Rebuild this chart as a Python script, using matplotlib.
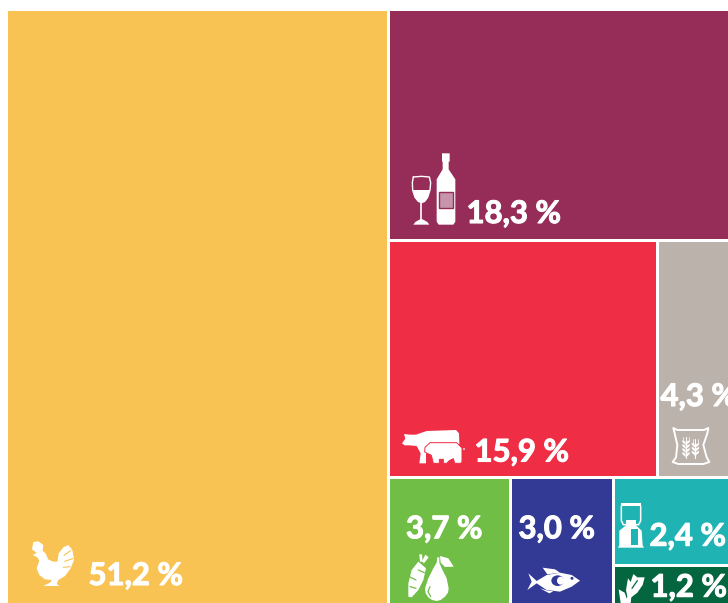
import matplotlib
matplotlib.use("Agg")
import matplotlib.pyplot as plt
from matplotlib.patches import Rectangle, Polygon, Ellipse, Circle
import matplotlib.patheffects as pe

# ---------- data ----------
categories = ["Volaille", "Vin", "Viande", "Céréales", "Fruits et légumes", "Poisson", "Lait", "Plantes"]
values = [51.2, 18.3, 15.9, 4.3, 3.7, 3.0, 2.4, 1.2]
# tile areas as drawn in the picture (%), they differ a little from the labels
tile_areas = [52.84, 18.31, 14.85, 3.97, 3.59, 3.03, 2.37, 1.04]
colors = ["#F9C353", "#962C58", "#EF2D44", "#BBB2AC", "#71BE47", "#323A96", "#20B3B3", "#04663F"]

W, H, DPI = 728, 603, 100
GAP = 3.0
FS = 22.4
plt.rcParams["font.family"] = ["Lato", "Open Sans", "DejaVu Sans"]

fig = plt.figure(figsize=(W / DPI, H / DPI), dpi=DPI, facecolor="white")
ax = fig.add_axes([0, 0, 1, 1])
ax.set_xlim(0, W)
ax.set_ylim(H, 0)
ax.axis("off")


# ---------- slice-and-dice treemap ----------
def layout(a, x0, y0, x1, y1):
    total = sum(a)
    xs = x0 + (x1 - x0) * a[0] / total
    rects = [(x0, y0, xs, y1)]
    rest = a[1:]
    rt = sum(rest)
    ys = y0 + (y1 - y0) * rest[0] / rt                 # top tile of right column
    rects.append((xs, y0, x1, ys))
    mid_t = rest[1] + rest[2]
    yb = ys + (y1 - ys) * mid_t / (rt - rest[0])       # middle row / bottom row
    xm = xs + (x1 - xs) * rest[1] / mid_t
    rects += [(xs, ys, xm, yb), (xm, ys, x1, yb)]
    low = rest[3:]
    lt = sum(low)
    xa = xs + (x1 - xs) * low[0] / lt
    xb = xa + (x1 - xs) * low[1] / lt
    rects += [(xs, yb, xa, y1), (xa, yb, xb, y1)]
    yc = yb + (y1 - yb) * low[2] / (low[2] + low[3])
    rects += [(xb, yb, x1, yc), (xb, yc, x1, y1)]
    return rects


rects = layout(tile_areas, 6.5, 9.5, 729.5, 604.5)
for (x0, y0, x1, y1), c in zip(rects, colors):
    ax.add_patch(Rectangle((x0 + GAP / 2, y0 + GAP / 2), x1 - x0 - GAP, y1 - y0 - GAP,
                           facecolor=c, edgecolor="none", zorder=1))

# ---------- labels: left / baseline position in each tile ----------
label_pos = [(88.5, 585), (466.5, 223), (474.5, 461.5), (660.5, 406),
             (406, 538.3), (518.5, 538.3), (649.5, 545.7), (650.5, 596.7)]
for v, (x, y) in zip(values, label_pos):
    t = ax.text(x, y, f"{v:.1f} %".replace(".", ","), color="white", fontsize=FS,
                fontweight="bold", ha="left", va="baseline", zorder=5)
    t.set_path_effects([pe.withStroke(linewidth=0.8, foreground="white")])


# ---------- icons (decoration), given in zoomed-crop coordinates ----------
def P(o, pts):
    return [(o[0] + x / 3, o[1] + y / 3) for x, y in pts]


def fill(o, pts, c="white", **kw):
    ax.add_patch(Polygon(P(o, pts), closed=True, facecolor=c, edgecolor=kw.pop("ec", "none"),
                         lw=kw.pop("lw", 0), joinstyle="round", zorder=kw.pop("z", 3)))


def line(o, pts, c="white", lw=1.0, z=3):
    q = P(o, pts)
    ax.plot([p[0] for p in q], [p[1] for p in q], color=c, lw=lw, solid_capstyle="round", zorder=z)


# chicken
o = (0, 520)
fill(o, [(112, 98), (128, 92), (138, 102), (144, 118), (160, 125), (172, 125), (176, 100), (190, 82),
         (205, 75), (217, 90), (222, 120), (212, 145), (195, 168), (175, 180), (170, 192), (178, 198),
         (130, 198), (150, 188), (156, 180), (135, 178), (118, 165), (110, 145), (118, 122), (112, 112), (98, 105)])
fill(o, [(96, 88), (100, 66), (115, 64), (130, 75), (128, 92), (112, 100)])
line(o, [(192, 106), (212, 92)], colors[0], 0.8, 4)
line(o, [(194, 124), (218, 116)], colors[0], 0.8, 4)
line(o, [(190, 142), (210, 140)], colors[0], 0.8, 4)

# wine
o = (390, 140)
bg = colors[1]
line(o, [(70, 111), (67, 128), (68, 150), (75, 172), (85, 184), (95, 188), (104, 184), (113, 172), (120, 150), (122, 128),
         (118, 111), (94, 109), (70, 111)], lw=1.0)
fill(o, [(69, 150), (120, 150), (113, 172), (104, 184), (95, 188), (85, 184), (75, 172)])
line(o, [(94, 188), (94, 240)], lw=1.2)
fill(o, [(70, 254), (118, 254), (112, 246), (98, 238), (90, 238), (76, 246)])
fill(o, [(156, 40), (179, 40), (179, 65), (176, 65), (176, 88), (196, 118), (196, 245), (190, 254),
         (146, 254), (140, 245), (140, 118), (158, 88), (158, 65), (156, 65)])
ax.add_patch(Rectangle((390 + 148 / 3, 140 + 155 / 3), 40 / 3, 50 / 3, facecolor="#C795AB", edgecolor=bg, lw=1.0, zorder=4))

# cow + pig
o = (390, 420)
bg = colors[2]
fill(o, [(36, 70), (46, 56), (42, 42), (60, 44), (78, 44), (110, 33), (198, 30), (207, 40), (208, 72),
         (140, 95), (108, 100), (108, 130), (88, 130), (92, 100), (80, 78), (58, 76), (44, 76)])
fill(o, [(105, 82), (120, 68), (200, 68), (216, 84), (216, 126), (212, 130), (194, 130), (190, 116),
         (178, 122), (170, 130), (160, 130), (160, 118), (148, 118), (148, 130), (130, 130), (124, 106), (104, 96)],
     ec=bg, lw=0.7, z=3.5)
ax.add_patch(Circle((390 + 222 / 3, 420 + 87 / 3), 0.9, fc="white", ec="none", zorder=3))

# carrot + pear
o = (390, 420)
bg = colors[4]
fill(o, [(85, 425), (108, 445), (100, 480), (85, 510), (65, 532), (55, 530), (55, 490), (65, 450)])
fill(o, [(88, 403), (96, 403), (98, 425), (90, 425)])
fill(o, [(106, 404), (116, 412), (102, 430), (96, 424)])
for a, b in [((58, 470), (78, 480)), ((60, 500), (78, 505)), ((85, 450), (103, 458))]:
    line(o, [a, b], bg, 0.9, 4)
fill(o, [(142, 412), (148, 412), (148, 428), (155, 445), (170, 475), (176, 505), (174, 518), (165, 530), (152, 540), (140, 543),
         (126, 540), (115, 532), (107, 520), (105, 505), (115, 475), (130, 445), (140, 428)])
fill(o, [(150, 408), (175, 415), (191, 440), (165, 441), (152, 428)])
line(o, [(120, 500), (114, 515), (122, 530)], bg, 0.9, 4)

# fish
o = (390, 420)
bg = colors[5]
fill(o, [(440, 483), (470, 465), (510, 458), (545, 465), (570, 482), (545, 500), (510, 515), (470, 510), (440, 490),
         (412, 510), (425, 485), (415, 460)])
fill(o, [(458, 443), (495, 448), (510, 458), (472, 463)])
fill(o, [(450, 505), (470, 511), (490, 514), (478, 520)])
ax.add_patch(Ellipse((390 + 503 / 3, 420 + 482 / 3), 38 / 3, 32 / 3, fc=bg, ec="none", zorder=4))
ax.add_patch(Ellipse((390 + 512 / 3, 420 + 482 / 3), 22 / 3, 24 / 3, fc="white", ec="none", zorder=4.5))
ax.add_patch(Circle((390 + 546 / 3, 420 + 475 / 3), 1.5, fc=bg, ec="none", zorder=4))

# sack with wheat
o = (590, 370)
fill(o, [(250, 174), (262, 180), (342, 180), (355, 174), (352, 190), (340, 225), (350, 262), (358, 276),
         (340, 282), (265, 282), (248, 276), (258, 262), (262, 225), (254, 190)], c=colors[3], ec="white", lw=1.4)
for xc, y0, y1 in [(288, 200, 265), (316, 208, 265)]:
    line(o, [(xc, y0), (xc, y1)], lw=0.8, z=4)
    for yy in range(y0 + 18, y1 - 8, 12):
        for d in (-1, 1):
            fill(o, [(xc, yy + 8), (xc + d * 11, yy - 2), (xc + d * 11, yy - 8), (xc + d * 2, yy - 3)], z=4)
    line(o, [(xc - 8, y0), (xc - 8, y0 + 14)], lw=0.5, z=4)
    line(o, [(xc + 8, y0), (xc + 8, y0 + 14)], lw=0.5, z=4)

# milk can
o = (590, 370)
bg = colors[6]
fill(o, [(92, 398), (154, 398), (154, 409), (92, 409)])
line(o, [(94, 408), (94, 452), (100, 464), (146, 464), (152, 452), (152, 408)], lw=1.1)
fill(o, [(108, 450), (138, 450), (138, 466), (155, 482), (158, 526), (162, 533), (84, 533), (88, 526), (88, 482), (108, 466)])
ax.add_patch(Rectangle((590 + 122 / 3, 370 + 478 / 3), 21 / 3, 47 / 3, fc=bg, ec="none", zorder=4))

# plant
o = (590, 370)
fill(o, [(108, 699), (112, 680), (108, 660), (114, 625), (122, 636), (130, 612), (142, 622), (164, 622), (158, 645),
         (142, 668), (124, 682), (122, 699)])
fill(o, [(86, 658), (104, 668), (112, 690), (110, 699), (92, 699)])
line(o, [(126, 655), (142, 632)], colors[7], 0.9, 4)

fig.savefig("out.png", dpi=DPI)
